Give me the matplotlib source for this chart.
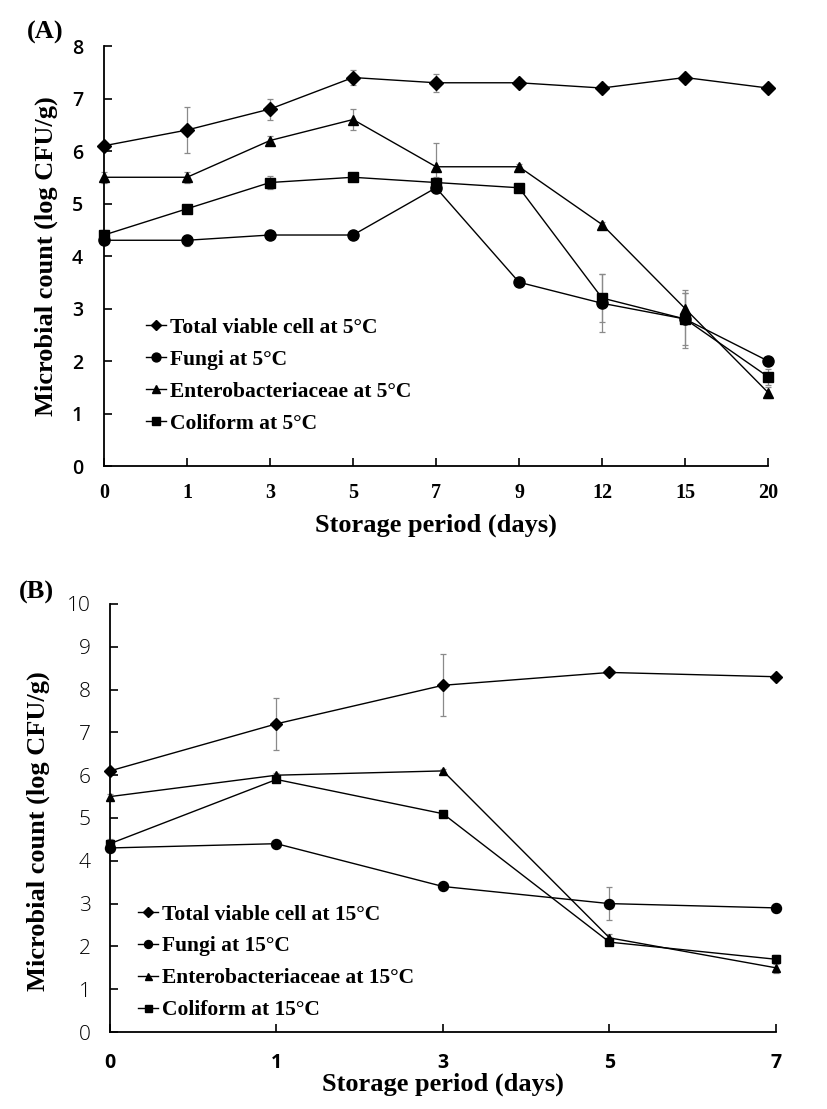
import matplotlib
matplotlib.use("Agg")
import matplotlib.pyplot as plt

# Panel A: storage at 5 C
days_a = ["0", "1", "3", "5", "7", "9", "12", "15", "20"]
tvc_a = [6.1, 6.4, 6.8, 7.4, 7.3, 7.3, 7.2, 7.4, 7.2]
fungi_a = [4.3, 4.3, 4.4, 4.4, 5.3, 3.5, 3.1, 2.8, 2.0]
entero_a = [5.5, 5.5, 6.2, 6.6, 5.7, 5.7, 4.6, 3.0, 1.4]
coli_a = [4.4, 4.9, 5.4, 5.5, 5.4, 5.3, 3.2, 2.8, 1.7]
tvc_a_err = [0.05, 0.43, 0.2, 0.14, 0.17, 0.05, 0.05, 0.05, 0.05]
fungi_a_err = [0.05, 0.1, 0.05, 0.05, 0.1, 0.05, 0.55, 0.5, 0.05]
entero_a_err = [0.1, 0.1, 0.08, 0.2, 0.46, 0.05, 0.05, 0.3, 0.1]
coli_a_err = [0.1, 0.05, 0.12, 0.05, 0.1, 0.05, 0.45, 0.55, 0.15]

# Panel B: storage at 15 C
days_b = ["0", "1", "3", "5", "7"]
tvc_b = [6.1, 7.2, 8.1, 8.4, 8.3]
fungi_b = [4.3, 4.4, 3.4, 3.0, 2.9]
entero_b = [5.5, 6.0, 6.1, 2.2, 1.5]
coli_b = [4.4, 5.9, 5.1, 2.1, 1.7]
tvc_b_err = [0.05, 0.61, 0.72, 0.05, 0.05]
fungi_b_err = [0.05, 0.05, 0.05, 0.38, 0.1]
entero_b_err = [0.05, 0.05, 0.05, 0.1, 0.12]
coli_b_err = [0.1, 0.05, 0.05, 0.05, 0.1]

names = ["Total viable cell", "Fungi", "Enterobacteriaceae", "Coliform"]
markers = ["D", "o", "^", "s"]
msizes = [7, 8, 7, 7]

serif = "Liberation Serif"
sans = "Open Sans"

fig = plt.figure(figsize=(8.27, 11.09), dpi=100)


def panel(ax, days, series, errs, temp, ymax, msz_scale):
    x = list(range(len(days)))
    for vals, err, name, mk, ms in zip(series, errs, names, markers, msizes):
        ax.errorbar(x, vals, yerr=err, fmt="none", ecolor="#8a8a8a",
                    elinewidth=0.9, capsize=2.5, capthick=0.9, clip_on=False,
                    zorder=2)
        ax.plot(x, vals, color="black", lw=1.0, marker=mk,
                markersize=ms * msz_scale, clip_on=False, zorder=3,
                label=f"{name} at {temp}\u00b0C")
    ax.set_xlim(0, len(days) - 1)
    ax.set_ylim(0, ymax)
    ax.set_xticks(x)
    ax.set_yticks(range(0, ymax + 1))
    for s in ["top", "right"]:
        ax.spines[s].set_visible(False)
    for s in ["left", "bottom"]:
        ax.spines[s].set_linewidth(1.3)
    ax.tick_params(direction="in", length=6, width=1.2)
    ax.set_ylabel("Microbial count (log CFU/g)", fontfamily=serif,
                  fontweight="bold", fontsize=19)
    ax.legend(loc="upper left", frameon=False,
              prop={"family": serif, "weight": "bold", "size": 15.5},
              handlelength=0.95, handletextpad=0.15, labelspacing=0.55,
              borderpad=0, borderaxespad=0, markerscale=0.8)
    return x


# ---- Panel A
ax1 = fig.add_axes([0.1258, 0.5798, 0.8029, 0.3787])
panel(ax1, days_a, [tvc_a, fungi_a, entero_a, coli_a],
      [tvc_a_err, fungi_a_err, entero_a_err, coli_a_err], 5, 8, 1.0)
ax1.set_xticklabels(days_a, fontfamily=serif, fontweight="bold", fontsize=14.5)
ax1.set_yticklabels([str(v) for v in range(0, 9)], fontfamily=sans,
                    fontweight="semibold", fontsize=14)
ax1.tick_params(axis="y", pad=15)
ax1.tick_params(axis="x", pad=12)
ax1.set_xlabel("Storage period (days)", fontfamily=serif, fontweight="bold",
               fontsize=19, labelpad=8)
ax1.yaxis.set_label_coords(-0.07, 0.5)
ax1.get_legend().set_bbox_to_anchor((0.063, 0.353), transform=ax1.transAxes)
fig.text(45 / 827, 1 - 32 / 1109, "(A)", fontfamily=serif, fontweight="bold",
         fontsize=19, ha="center", va="center")

# ---- Panel B
ax2 = fig.add_axes([0.1330, 0.0694, 0.8053, 0.3860])
panel(ax2, days_b, [tvc_b, fungi_b, entero_b, coli_b],
      [tvc_b_err, fungi_b_err, entero_b_err, coli_b_err], 15, 10, 0.9)
ax2.set_xticklabels(days_b, fontfamily=sans, fontweight="bold", fontsize=14)
ax2.set_yticklabels([str(v) for v in range(0, 11)], fontfamily=sans,
                    fontweight="light", fontsize=15)
ax2.tick_params(axis="y", pad=14)
ax2.tick_params(axis="x", pad=15)
ax2.set_xlabel("Storage period (days)", fontfamily=serif, fontweight="bold",
               fontsize=19, labelpad=0)
ax2.yaxis.set_label_coords(-0.09, 0.47)
ax2.get_legend().set_bbox_to_anchor((0.042, 0.298), transform=ax2.transAxes)
fig.text(36 / 827, 1 - 592 / 1109, "(B)", fontfamily=serif, fontweight="bold",
         fontsize=19, ha="center", va="center")

fig.savefig("out.png", dpi=100)
